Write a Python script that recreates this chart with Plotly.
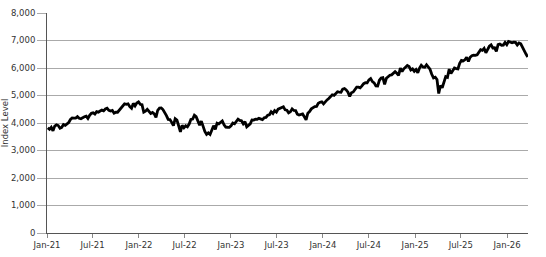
import pandas as pd
import plotly.graph_objects as go

# Weekly index level readings (approx.), Jan 2021 - Mar 2026
v2021 = [3825, 3768, 3841, 3714, 3887, 3934, 3907, 3811, 3842, 3943, 3913, 3975,
         4019, 4128, 4185, 4180, 4181, 4232, 4173, 4156, 4204, 4229, 4247, 4166, 4281,
         4352, 4369, 4327, 4412, 4395, 4436, 4468, 4441, 4509, 4535, 4458, 4433, 4455, 4357,
         4391, 4391, 4471, 4545, 4605, 4697, 4682, 4698, 4595, 4538, 4712, 4620, 4725, 4766]
v2022 = [4677, 4662, 4398, 4432, 4500, 4419, 4349, 4385, 4329, 4204, 4463, 4543,
         4545, 4488, 4392, 4271, 4132, 4123, 4023, 3901, 4158, 4108, 3900, 3675, 3911,
         3825, 3899, 3863, 3962, 4130, 4145, 4280, 4228, 4057, 3924, 4067, 3873, 3693, 3586,
         3640, 3583, 3752, 3901, 3771, 3993, 3966, 4026, 4072, 3934, 3852, 3845, 3840]
v2023 = [3895, 3999, 3973, 4071, 4136, 4091, 4079, 3970, 4046, 3862, 3917, 3971, 4109,
         4105, 4138, 4133, 4169, 4136, 4124, 4192, 4205, 4282, 4299, 4410, 4348, 4450,
         4399, 4505, 4536, 4582, 4588, 4478, 4464, 4370, 4406, 4515, 4457, 4450, 4320, 4288,
         4309, 4328, 4224, 4117, 4358, 4415, 4514, 4559, 4594, 4604, 4719, 4754, 4770]
v2024 = [4697, 4783, 4840, 4891, 4958, 5026, 5005, 5089, 5137, 5124, 5117, 5234, 5254,
         5204, 5123, 4967, 5100, 5128, 5223, 5303, 5305, 5277, 5347, 5431, 5464, 5460,
         5567, 5615, 5505, 5459, 5346, 5344, 5554, 5634, 5648, 5408, 5626, 5703, 5738,
         5751, 5815, 5864, 5808, 5729, 5995, 5870, 5969, 6032, 6090, 6051, 5930, 5970, 5881]
v2025 = [5942, 5827, 5997, 6101, 6040, 6026, 6115, 6013, 5955, 5770, 5639, 5667, 5581,
         5074, 5363, 5282, 5525, 5687, 5660, 5958, 5802, 5912, 6000, 5977, 5967, 6173,
         6279, 6259, 6297, 6389, 6238, 6389, 6449, 6466, 6460, 6482, 6584, 6664, 6643,
         6716, 6553, 6664, 6791, 6840, 6729, 6734, 6602, 6849, 6870, 6827, 6834, 6930, 6845]
v2026 = [6966, 6940, 6915, 6939, 6932, 6836, 6909, 6878, 6740, 6632, 6506, 6400]

values = v2021 + v2022 + v2023 + v2024 + v2025 + v2026
dates = pd.date_range("2021-01-04", "2026-03-24", periods=len(values))

y_ticks = list(range(0, 8001, 1000))

fig = go.Figure(go.Scatter(x=dates, y=values, mode="lines",
                           line=dict(color="black", width=2.8),
                           hoverinfo="skip", showlegend=False))

fig.update_layout(
    width=546, height=257,
    margin=dict(l=47, r=18, t=13, b=24, autoexpand=False),
    paper_bgcolor="white", plot_bgcolor="white",
    font=dict(family="DejaVu Sans", size=8.5, color="#333"),
)
fig.update_xaxes(
    range=["2021-01-01", "2026-03-25"],
    tickformat="%b-%y", dtick="M6", tick0="2021-01-01",
    showgrid=False, showline=True, linecolor="#555", linewidth=1,
    ticks="outside", ticklen=4, tickcolor="#888",
    zeroline=False, automargin=False,
)
fig.update_yaxes(
    range=[0, 8000], tickvals=y_ticks, tickformat=",",
    showgrid=True, gridcolor="#aaaaaa", gridwidth=1,
    showline=True, linecolor="#555", linewidth=1,
    ticks="outside", ticklen=9, tickcolor="#aaaaaa",
    zeroline=False, automargin=False,
    title=dict(text="Index Level", standoff=3, font=dict(size=8.5, color="#333")),
)

fig.write_html("out.html")
